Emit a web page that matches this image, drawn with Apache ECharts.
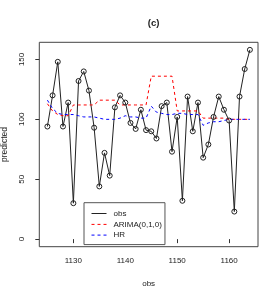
<!DOCTYPE html>
<html>
<head>
<meta charset="utf-8">
<script src="https://cdn.jsdelivr.net/npm/echarts@6/dist/echarts.min.js"></script>
<style>html,body{margin:0;padding:0;background:#fff}#c{width:278px;height:300px}</style>
</head>
<body>
<div id="c"></div>
<script>
var xs = [1125,1126,1127,1128,1129,1130,1131,1132,1133,1134,1135,1136,1137,1138,1139,1140,1141,1142,1143,1144,1145,1146,1147,1148,1149,1150,1151,1152,1153,1154,1155,1156,1157,1158,1159,1160,1161,1162,1163,1164];
var obs = [94,120,148,94,114,30,132,140,124,93,44,72,53,110,120,114,97,92,108,91,90,84,111,114,73,102,32,119,90,114,68,79,102,119,108,99,23,119,142,158];
var arima = [113,107,104,103,103,112,112,112,112,112,116,116,116,116,112,112,112,112,112,112,136,136,136,136,136,107,107,107,107,107,101,101,101,101,101,100,100,100,100,100];
var hr = [116,109,105,104,104,104,103,102,102,102,101,100,100,100,101,103,102,102,101,101,111,106,105,104,104,105,105,104,104,104,95,97,98,98,99,100,100,100,100,100];
var xTicks = [1130,1140,1150,1160];
var yTicks = [0,50,100,150];
var seriesNames = ['obs','ARIMA(0,1,0)','HR'];

function pairs(v){ return xs.map(function(x,i){ return [x, v[i]]; }); }
var FONT = '"Liberation Sans", Arial, sans-serif';
var TXT = '#222';

var chart = echarts.init(document.getElementById('c'), null, {renderer:'canvas'});
chart.setOption({
  animation: false,
  backgroundColor: '#fff',
  title: {
    text: '(c)', left: 148.7, top: 13, textAlign: 'center',
    textStyle: {fontFamily: FONT, fontSize: 9.6, fontWeight: 'bold', color: TXT}
  },
  grid: {left: 39.3, right: 20, top: 42.3, bottom: 53.3, show: true, borderColor: '#444', borderWidth: 1,
    backgroundColor: 'transparent', containLabel: false, outerBoundsMode: 'none'},
  xAxis: {
    type: 'value', min: 1123.44, max: 1165.56,
    name: 'obs', nameLocation: 'middle', nameGap: 33,
    nameTextStyle: {fontFamily: FONT, fontSize: 8, color: TXT},
    axisLine: {show: false},
    splitLine: {show: false},
    axisTick: {show: true, length: 4, customValues: xTicks, lineStyle: {color: '#333'}},
    axisLabel: {customValues: xTicks, margin: 10.5, fontFamily: FONT, fontSize: 8, color: TXT,
      formatter: function(v){ return String(v); }}
  },
  yAxis: {
    type: 'value', min: -6.32, max: 164.3,
    name: 'predicted', nameLocation: 'middle', nameGap: 30.5,
    nameTextStyle: {fontFamily: FONT, fontSize: 8.5, color: TXT},
    axisLine: {show: false},
    splitLine: {show: false},
    axisTick: {show: true, length: 4, customValues: yTicks, lineStyle: {color: '#333'}},
    axisLabel: {customValues: yTicks, rotate: 90, margin: 14, fontFamily: FONT, fontSize: 8, color: TXT}
  },
  legend: {
    orient: 'vertical', left: 84, top: 202.7,
    padding: [6.6, 3, 5.5, 7],
    itemWidth: 15, itemHeight: 8, itemGap: 2.7,
    borderColor: '#555', borderWidth: 1, backgroundColor: '#fff',
    itemStyle: {opacity: 0},
    lineStyle: {width: 1},
    textStyle: {fontFamily: FONT, fontSize: 8, color: TXT, padding: [0,0,0,2]},
    data: seriesNames
  },
  series: [
    {name: seriesNames[0], type: 'line', data: pairs(obs), symbol: 'circle', symbolSize: 5, showAllSymbol: true,
     lineStyle: {color: '#222', width: 1},
     itemStyle: {color: 'rgba(0,0,0,0)', borderColor: '#222', borderWidth: 1}},
    {name: seriesNames[1], type: 'line', data: pairs(arima), symbol: 'none',
     lineStyle: {color: '#ff0000', width: 1, type: [3,3]}, itemStyle: {color: '#ff0000'}},
    {name: seriesNames[2], type: 'line', data: pairs(hr), symbol: 'none',
     lineStyle: {color: '#0000ff', width: 1, type: [3,3]}, itemStyle: {color: '#0000ff'}}
  ]
});
</script>
</body>
</html>
